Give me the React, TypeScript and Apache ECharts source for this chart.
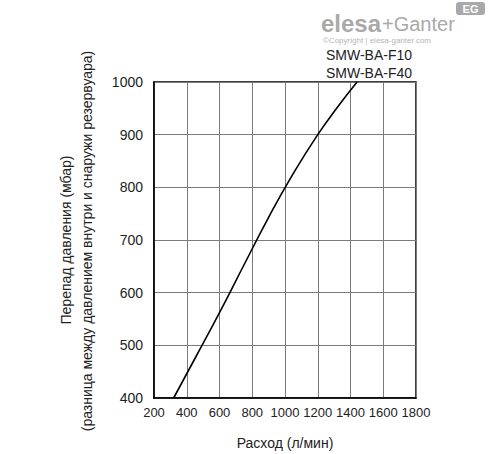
import React, { useEffect, useRef } from "react";
import * as echarts from "echarts";

const flowValues = [320, 450, 600, 750, 900, 1050, 1200, 1320, 1440];
const pressureValues = [400, 475, 562, 653, 743, 826, 900, 952, 1000];
const xTicks = { min: 200, max: 1800, interval: 200 };
const yTicks = { min: 400, max: 1000, interval: 100 };
const seriesLabels = ["SMW-BA-F10", "SMW-BA-F40"];
const xAxisTitle = "Расход (л/мин)";
const yAxisTitle1 = "Перепад давления (мбар)";
const yAxisTitle2 = "(разница между давлением внутри и снаружи резервуара)";

const SANS = '"Liberation Sans", Arial, sans-serif';

export default function App() {
  const ref = useRef<HTMLDivElement>(null);
  useEffect(() => {
    if (!ref.current) return;
    const chart = echarts.init(ref.current, null, { renderer: "svg" });
    const data = flowValues.map((x, i) => [x, pressureValues[i]]);
    chart.setOption({
      animation: false,
      backgroundColor: "#fff",
      grid: {
        left: 154,
        right: 72,
        top: 82,
        bottom: 56,
        show: true,
        borderColor: "#000",
        borderWidth: 1.5,
      },
      xAxis: {
        type: "value",
        min: xTicks.min,
        max: xTicks.max,
        interval: xTicks.interval,
        axisLine: { show: true, lineStyle: { color: "#000", width: 1.5 } },
        axisTick: { show: false },
        axisLabel: {
          color: "#222",
          fontSize: 13,
          fontFamily: SANS,
          margin: 8,
          formatter: (v: number) => String(v),
        },
        splitLine: { show: true, lineStyle: { color: "#7a7a7a", width: 1 } },
      },
      yAxis: {
        type: "value",
        min: yTicks.min,
        max: yTicks.max,
        interval: yTicks.interval,
        axisLine: { show: true, lineStyle: { color: "#000", width: 1.5 } },
        axisTick: { show: false },
        axisLabel: {
          color: "#222",
          fontSize: 14,
          fontFamily: SANS,
          margin: 11,
          formatter: (v: number) => String(v),
        },
        splitLine: { show: true, lineStyle: { color: "#7a7a7a", width: 1 } },
      },
      series: [
        {
          type: "line",
          data,
          smooth: 0.5,
          symbol: "none",
          lineStyle: { color: "#000", width: 1.6 },
          clip: true,
        },
      ],
      graphic: [
        {
          type: "text",
          x: 285,
          y: 443,
          style: {
            text: xAxisTitle,
            fontSize: 14,
            fontFamily: SANS,
            fill: "#222",
            textAlign: "center",
            textVerticalAlign: "middle",
          },
        },
        {
          type: "text",
          x: 66,
          y: 240,
          rotation: Math.PI / 2,
          style: {
            text: yAxisTitle1,
            fontSize: 14,
            fontFamily: SANS,
            fill: "#222",
            textAlign: "center",
            textVerticalAlign: "middle",
          },
        },
        {
          type: "text",
          x: 86.5,
          y: 241,
          rotation: Math.PI / 2,
          style: {
            text: yAxisTitle2,
            fontSize: 14,
            fontFamily: SANS,
            fill: "#222",
            textAlign: "center",
            textVerticalAlign: "middle",
          },
        },
        {
          type: "text",
          x: 326,
          y: 55,
          style: {
            text: seriesLabels[0],
            fontSize: 14,
            fontFamily: SANS,
            fill: "#222",
            textAlign: "left",
            textVerticalAlign: "middle",
          },
        },
        {
          type: "text",
          x: 326,
          y: 73,
          style: {
            text: seriesLabels[1],
            fontSize: 14,
            fontFamily: SANS,
            fill: "#222",
            textAlign: "left",
            textVerticalAlign: "middle",
          },
        },
        {
          type: "text",
          x: 321,
          y: 23,
          style: {
            text: "elesa",
            fontSize: 24,
            fontWeight: "bold",
            fontFamily: SANS,
            fill: "#a9a9a9",
            textAlign: "left",
            textVerticalAlign: "middle",
          },
        },
        {
          type: "text",
          x: 382,
          y: 24,
          style: {
            text: "+Ganter",
            fontSize: 20,
            fontFamily: SANS,
            fill: "#a9a9a9",
            textAlign: "left",
            textVerticalAlign: "middle",
          },
        },
        {
          type: "rect",
          shape: { x: 456, y: 2, width: 29, height: 13, r: 3 },
          style: { fill: "#a9a9a9" },
        },
        {
          type: "text",
          x: 470.5,
          y: 9,
          style: {
            text: "EG",
            fontSize: 11,
            fontWeight: "bold",
            fontFamily: SANS,
            fill: "#fff",
            textAlign: "center",
            textVerticalAlign: "middle",
          },
        },
        {
          type: "text",
          x: 323,
          y: 40.5,
          style: {
            text: "©Copyright | elesa-ganter.com",
            fontSize: 8,
            fontFamily: SANS,
            fill: "#b5b5b5",
            textAlign: "left",
            textVerticalAlign: "middle",
          },
        },
      ],
    });
    return () => chart.dispose();
  }, []);
  return (
    <div
      ref={ref}
      style={{ position: "absolute", left: 0, top: 0, width: 488, height: 454 }}
    />
  );
}
